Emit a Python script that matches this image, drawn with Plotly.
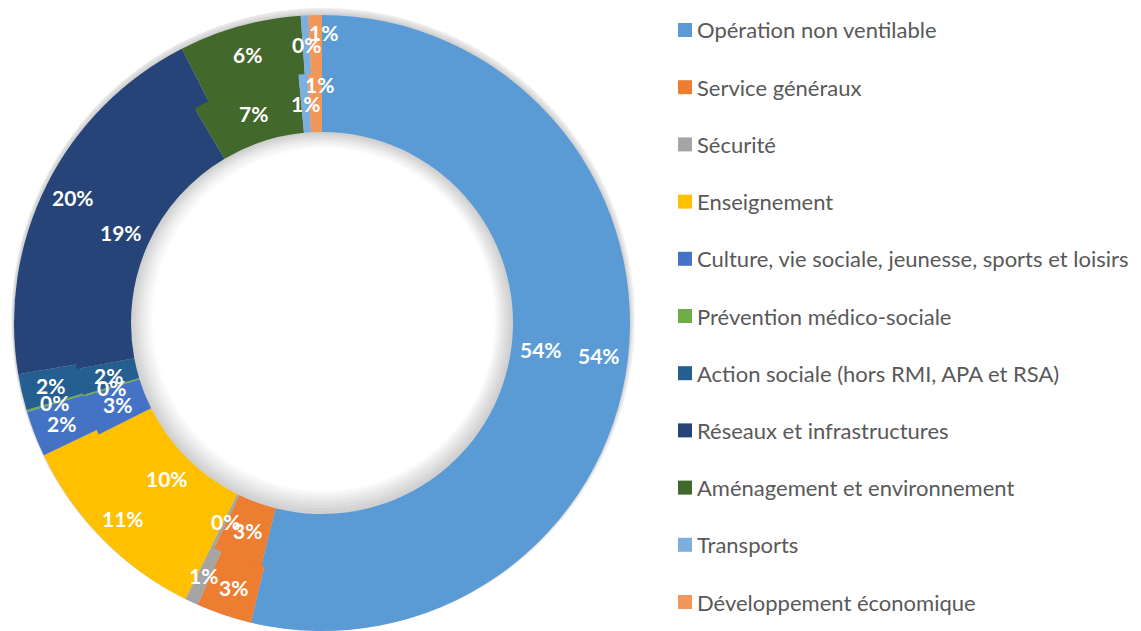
import numpy as np
import plotly.graph_objects as go

# ---------------- data ----------------
categories = [
    "Opération non ventilable",
    "Service généraux",
    "Sécurité",
    "Enseignement",
    "Culture, vie sociale, jeunesse, sports et loisirs",
    "Prévention médico-sociale",
    "Action sociale (hors RMI, APA et RSA)",
    "Réseaux et infrastructures",
    "Aménagement et environnement",
    "Transports",
    "Développement économique",
]
outer_values = [53.6, 2.9, 0.7, 10.6, 2.4, 0.1, 1.9, 20.1, 6.4, 0.4, 0.7]
inner_values = [53.8, 3.2, 0.2, 10.3, 2.6, 0.1, 1.7, 19.4, 7.0, 0.6, 0.9]
colors = ["#5B9BD5", "#ED7D31", "#A5A5A5", "#FFC000", "#4472C4", "#70AD47",
          "#255E91", "#264478", "#43682B", "#7CAFDD", "#F1975A"]

# ---------------- geometry (page has an 8px body margin) ----------------
OFF = 8
W, H = 1141 - OFF, 631 - OFF
CX, CY = 322 - OFF, 323 - OFF      # centre in figure px (from top-left)
R_OUT = 308
R_HOLE = 191
R_SPLIT = (R_OUT + R_HOLE) / 2

def dom(r):
    return dict(x=[max(0, (CX - r) / W), min(1, (CX + r) / W)],
                y=[max(0, (H - CY - r) / H), min(1, (H - CY + r) / H)])

fig = go.Figure()

# soft shadow (decorative): outer glow + inner hole shading
for k in range(1, 9):
    ro = R_OUT + 1.2 * k
    ri = R_HOLE - 2.0 * k
    fig.add_trace(go.Pie(values=[1], labels=["s"], domain=dom(ro), hole=ri / ro,
                         marker=dict(colors=["rgba(0,0,0,0.022)"], line=dict(width=0)),
                         textinfo="none", hoverinfo="skip", showlegend=False, sort=False))

fig.add_trace(go.Pie(
    labels=categories, values=outer_values, sort=False, direction="clockwise", rotation=0,
    hole=(R_SPLIT - 3) / R_OUT, domain=dom(R_OUT),
    marker=dict(colors=colors, line=dict(width=0)),
    textinfo="none", showlegend=False,
))
fig.add_trace(go.Pie(
    labels=categories, values=inner_values, sort=False, direction="clockwise", rotation=0,
    hole=R_HOLE / R_SPLIT, domain=dom(R_SPLIT),
    marker=dict(colors=colors, line=dict(width=0)),
    textinfo="none", showlegend=False,
))

# label nudges for crowded tiny slices (Excel moved these)
nudge_outer = {"Développement économique": (8, 12)}
nudge_inner = {"Développement économique": (4, 18)}

# data labels at mid-ring along each slice bisector (Excel style)
def add_labels(values, r, nudge):
    v = np.array(values, dtype=float)
    frac = v / v.sum()
    mids = np.cumsum(frac) - frac / 2
    for lab, f, m in zip(categories, frac, mids):
        th = 2 * np.pi * m
        px = CX + r * np.sin(th)
        py = CY - r * np.cos(th)
        dx, dy = nudge.get(lab, (0, 0))
        fig.add_annotation(x=px / W, y=1 - py / H, xref="paper", yref="paper",
                           text=f"{round(f * 100):.0f}%", showarrow=False,
                           xshift=dx, yshift=dy,
                           font=dict(family="Lato", size=21, color="white", weight="bold"),
                           xanchor="center", yanchor="middle")

add_labels(outer_values, (R_OUT + R_SPLIT) / 2, nudge_outer)
add_labels(inner_values, (R_SPLIT + R_HOLE) / 2, nudge_inner)

# legend (manual, Excel style)
LEG_X, LEG_Y0, LEG_DY, SQ = 678 - OFF, 30 - OFF, 57.2, 14
for i, (lab, col) in enumerate(zip(categories, colors)):
    yc = LEG_Y0 + i * LEG_DY
    fig.add_shape(type="rect", xref="paper", yref="paper",
                  x0=LEG_X / W, x1=(LEG_X + SQ) / W,
                  y0=1 - (yc + SQ / 2) / H, y1=1 - (yc - SQ / 2) / H,
                  fillcolor=col, line=dict(width=0))
    fig.add_annotation(x=(LEG_X + SQ + 3) / W, y=1 - yc / H, xref="paper", yref="paper",
                       text=lab, showarrow=False, xanchor="left", yanchor="middle",
                       font=dict(family="Lato", size=22, color="#595959"))

fig.update_layout(width=W, height=H, margin=dict(l=0, r=0, t=0, b=0),
                  paper_bgcolor="white", plot_bgcolor="white", showlegend=False)
fig.write_html("out.html")
